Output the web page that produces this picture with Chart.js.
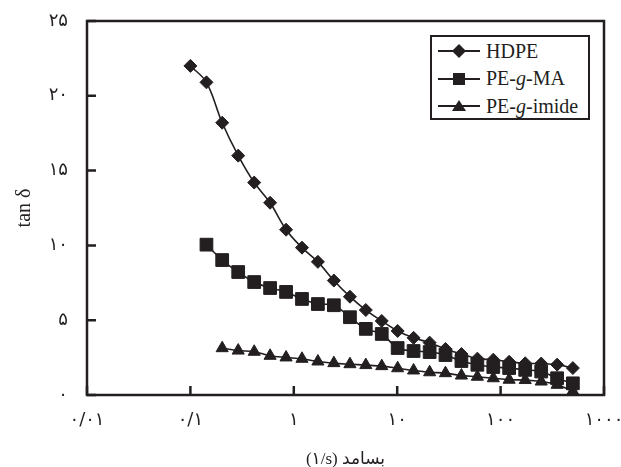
<!DOCTYPE html>
<html>
<head>
<meta charset="utf-8">
<script src="https://cdn.jsdelivr.net/npm/chart.js@4"></script>
<style>
  html, body { margin:0; padding:0; background:#fff; }
  #wrap { position:relative; width:621px; height:467px; }
  #legend { position:absolute; left:430px; top:35px; width:160px; height:85px; box-sizing:border-box;
            border:2.5px solid #231f20; background:#fff; font-family:'Liberation Serif','Times New Roman',serif;
            font-size:20px; color:#231f20; }
  .lg-row { position:absolute; left:6px; height:24px; display:flex; align-items:center; }
  .lg-row svg { width:42px; height:20px; margin-right:6px; }
</style>
</head>
<body>
<div id="wrap">
  <canvas id="c" width="621" height="467"></canvas>
  <div id="legend"></div>
</div>
<script>
// frequency (1/s), shared by all series
const freq = [0.1, 0.143, 0.203, 0.29, 0.414, 0.59, 0.842, 1.2, 1.71, 2.44, 3.49, 4.97, 7.09,
              10.1, 14.4, 20.6, 29.3, 41.8, 59.6, 85, 121, 173, 247, 352, 500];

// tan delta
const hdpe   = [22.0, 20.9, 18.2, 16.0, 14.2, 12.85, 11.05, 9.85, 8.9, 7.65, 6.57, 5.68, 4.95,
                4.28, 3.82, 3.5, 3.08, 2.74, 2.43, 2.36, 2.22, 2.12, 2.1, 2.03, 1.8];
const peGMa  = [null, 10.05, 9.02, 8.22, 7.55, 7.15, 6.89, 6.42, 6.08, 6.0, 5.2, 4.42, 4.08,
                3.14, 2.94, 2.87, 2.67, 2.27, 2.02, 1.87, 1.8, 1.68, 1.57, 1.12, 0.78];
const peGImide = [null, null, 3.13, 2.97, 2.89, 2.62, 2.51, 2.42, 2.24, 2.13, 2.06, 2.0, 1.93,
                1.79, 1.64, 1.52, 1.46, 1.3, 1.22, 1.12, 1.02, 1.0, 0.9, 0.68, 0.25];

const xTickVals   = [0.01, 0.1, 1, 10, 100, 1000];
const xTickLabels = ['۰/۰۱', '۰/۱', '۱', '۱۰', '۱۰۰', '۱۰۰۰'];
const yTickVals   = [0, 5, 10, 15, 20, 25];
const yTickLabels = ['۰', '۵', '۱۰', '۱۵', '۲۰', '۲۵'];

const INK = '#231f20';

const pts = arr => freq.map((f, i) => ({ x: f, y: arr[i] })).filter(p => p.y !== null);

function series(label, arr, style, r) {
  return {
    label, data: pts(arr),
    borderColor: INK, backgroundColor: INK, borderWidth: 1.6,
    pointStyle: style, pointRadius: r, pointHoverRadius: r,
    pointBackgroundColor: INK, pointBorderColor: INK, pointBorderWidth: 1,
    tension: 0.35, fill: false
  };
}

// inward tick marks + box frame
const frame = {
  id: 'frame',
  afterDraw(chart) {
    const { ctx, chartArea: a, scales: { x, y } } = chart;
    ctx.save();
    ctx.strokeStyle = INK;
    ctx.lineWidth = 2.5;
    ctx.beginPath();
    xTickVals.forEach(v => { const px = x.getPixelForValue(v); ctx.moveTo(px, a.bottom); ctx.lineTo(px, a.bottom - 9); });
    yTickVals.forEach(v => { const py = y.getPixelForValue(v); ctx.moveTo(a.left, py); ctx.lineTo(a.left + 9, py); });
    ctx.stroke();
    ctx.strokeRect(a.left, a.top, a.right - a.left, a.bottom - a.top);
    ctx.restore();
  }
};

new Chart(document.getElementById('c'), {
  type: 'line',
  data: {
    datasets: [
      series('HDPE', hdpe, 'rectRot', 6.5),
      series('PE-g-MA', peGMa, 'rect', 9),
      series('PE-g-imide', peGImide, 'triangle', 7)
    ]
  },
  options: {
    responsive: false, animation: false, devicePixelRatio: 1,
    layout: { padding: { left: 0, right: 17, top: 21, bottom: 0 } },
    plugins: { legend: { display: false }, tooltip: { enabled: false } },
    scales: {
      x: {
        type: 'logarithmic', min: 0.01, max: 1000,
        grid: { display: false }, border: { display: false },
        afterBuildTicks: s => { s.ticks = xTickVals.map(v => ({ value: v })); },
        afterFit: s => { s.height = 72; s.paddingLeft = 0; s.paddingRight = 0; },
        ticks: {
          autoSkip: false, maxRotation: 0, padding: 7, color: INK,
          font: { family: "'DejaVu Sans'", size: 18 },
          callback: (v, i) => xTickLabels[i]
        },
        title: {
          display: true, text: '(۱/s) بسامد', color: INK,
          font: { family: "'Liberation Serif','DejaVu Sans'", size: 17 },
          padding: { top: 0, bottom: -3 }
        }
      },
      y: {
        min: 0, max: 25,
        grid: { display: false }, border: { display: false },
        afterBuildTicks: s => { s.ticks = yTickVals.map(v => ({ value: v })); },
        afterFit: s => { s.width = 87; s.paddingTop = 0; s.paddingBottom = 0; },
        ticks: {
          padding: 11, color: INK,
          font: { family: "'DejaVu Sans'", size: 18 },
          callback: (v, i) => yTickLabels[i]
        },
        title: {
          display: true, text: 'tan δ', color: INK,
          font: { family: "'Liberation Serif'", size: 20 },
          padding: { top: 13, bottom: 0 }
        }
      }
    }
  },
  plugins: [frame]
});

// legend with italic g
const legendItems = [
  { name: 'HDPE', mark: '<polygon points="21,3 28,10 21,17 14,10"/>' },
  { name: 'PE-<i>g</i>-MA', mark: '<rect x="15" y="4" width="12" height="12"/>' },
  { name: 'PE-<i>g</i>-imide', mark: '<polygon points="21,4 28,15 14,15"/>' }
];
const lg = document.getElementById('legend');
lg.innerHTML = legendItems.map((it, i) => `
  <div class="lg-row" style="top:${2 + i * 27.5}px">
    <svg viewBox="0 0 42 20"><line x1="0" y1="10" x2="42" y2="10" stroke="${INK}" stroke-width="2"/>
      <g fill="${INK}">${it.mark}</g></svg>
    <span>${it.name}</span>
  </div>`).join('');
</script>
</body>
</html>
